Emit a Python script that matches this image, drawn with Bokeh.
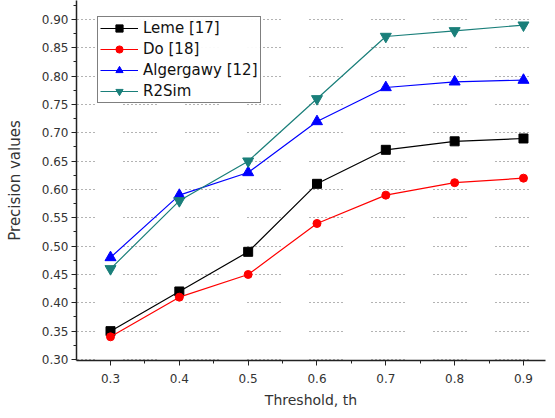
from bokeh.plotting import figure
from bokeh.models import Range1d, SingleIntervalTicker, Legend, LegendItem, NumeralTickFormatter
from bokeh.embed import file_html
from bokeh.resources import INLINE

thresholds = [0.3, 0.4, 0.5, 0.6, 0.7, 0.8, 0.9]
leme = [0.35, 0.42, 0.49, 0.61, 0.67, 0.685, 0.69]
do = [0.34, 0.41, 0.45, 0.54, 0.59, 0.612, 0.62]
algergawy = [0.48, 0.59, 0.63, 0.72, 0.78, 0.79, 0.793]
r2sim = [0.46, 0.58, 0.65, 0.76, 0.87, 0.88, 0.89]

series = [
    ("Leme [17]", leme, "#000000", "square", 9),
    ("Do [18]", do, "#ff0000", "circle", 8),
    ("Algergawy [12]", algergawy, "#0000ff", "triangle", 11),
    ("R2Sim", r2sim, "#1a7f7a", "inverted_triangle", 11),
]

FONT = "DejaVu Sans"

p = figure(width=547, height=410, output_backend="svg", toolbar_location=None,
           x_range=Range1d(0.2506, 0.932), y_range=Range1d(0.2982, 0.9335),
           min_border_left=76, min_border_right=2, min_border_top=0, min_border_bottom=50)
p.outline_line_color = None
p.background_fill_color = "white"
p.border_fill_color = "white"

p.xaxis.ticker = SingleIntervalTicker(interval=0.1, num_minor_ticks=2)
p.yaxis.ticker = SingleIntervalTicker(interval=0.05, num_minor_ticks=2)
p.xaxis.formatter = NumeralTickFormatter(format="0.0")
p.yaxis.formatter = NumeralTickFormatter(format="0.00")
for ax in (p.xaxis, p.yaxis):
    ax.axis_line_color = "#222222"
    ax.axis_line_width = 1.5
    ax.major_tick_line_color = "#222222"
    ax.minor_tick_line_color = "#222222"
    ax.major_tick_out = 5
    ax.major_tick_in = 0
    ax.minor_tick_out = 3
    ax.minor_tick_in = 0
    ax.major_label_text_font = FONT
    ax.major_label_text_font_size = "12px"
    ax.major_label_text_color = "#333333"
    ax.axis_label_text_font = FONT
    ax.axis_label_text_font_style = "normal"
    ax.axis_label_text_color = "#333333"
p.xaxis.axis_label = "Threshold, th"
p.yaxis.axis_label = "Precision values"
p.xaxis.axis_label_text_font_size = "14px"
p.yaxis.axis_label_text_font_size = "15px"
p.xaxis.major_label_standoff = 8
p.xaxis.axis_label_standoff = 6
p.yaxis.major_label_standoff = 3
p.yaxis.axis_label_standoff = 15

p.xgrid.grid_line_color = None
p.ygrid.grid_line_color = "#666666"
p.ygrid.grid_line_dash = "1 3 1 3 1 3 1 3 1 3 1 3 1 3 1 3 1 29"
p.ygrid.grid_line_dash_offset = 15
p.ygrid.grid_line_width = 1

items = []
for name, vals, color, marker, msize in series:
    r1 = p.line(thresholds, vals, line_color=color, line_width=1.2)
    r2 = p.scatter(thresholds, vals, marker=marker, size=msize,
                   fill_color=color, line_color=color)
    items.append(LegendItem(label=name, renderers=[r1, r2]))

legend = Legend(items=items, location=(21, 257))
legend.border_line_color = "#000000"
legend.border_line_width = 1.5
legend.label_text_font = FONT
legend.label_text_font_size = "15px"
legend.label_text_color = "#111111"
legend.glyph_width = 38
legend.glyph_height = 18
legend.spacing = 3
legend.padding = 2
legend.margin = 0
legend.label_standoff = 5
legend.label_height = 18
p.add_layout(legend, "center")

open("out.html", "w").write(file_html(p, INLINE))
